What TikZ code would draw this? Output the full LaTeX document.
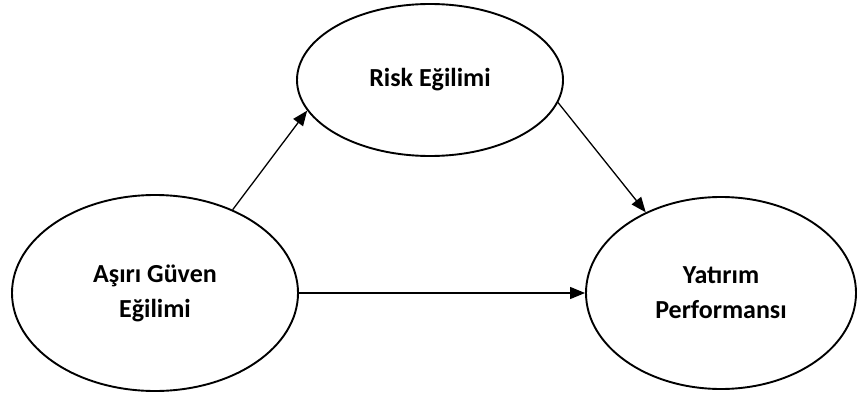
\documentclass[tikz,border=0pt]{standalone}
\usepackage{fontspec}
\setmainfont{Carlito}
\usetikzlibrary{shapes.geometric,arrows.meta}
\tikzset{
  bubble/.style={ellipse, draw=black, line width=1.9pt, inner sep=0pt, align=center,
    font=\fontsize{26}{35}\selectfont\bfseries},
  link/.style={draw=black, line width=1.3pt, -{Triangle[length=15pt,width=12pt]}}
}
\begin{document}
\begin{tikzpicture}[x=1pt,y=1pt]
\useasboundingbox (0,0) rectangle (858,394);
\node[bubble, minimum width=266pt, minimum height=152pt] (risk) at (430,314) {Risk Eğilimi};
\node[bubble, minimum width=286pt, minimum height=196pt] (guven) at (155,101) {Aşırı Güven\\Eğilimi};
\node[bubble, minimum width=270pt, minimum height=192pt] (perf) at (721,101) {Yatırım\\Performansı};
\draw[link] (guven.47) -- (risk.194);
\draw[link] (risk.350) -- (perf.133);
\draw[link] (guven.east) -- (perf.west);
\end{tikzpicture}
\end{document}
